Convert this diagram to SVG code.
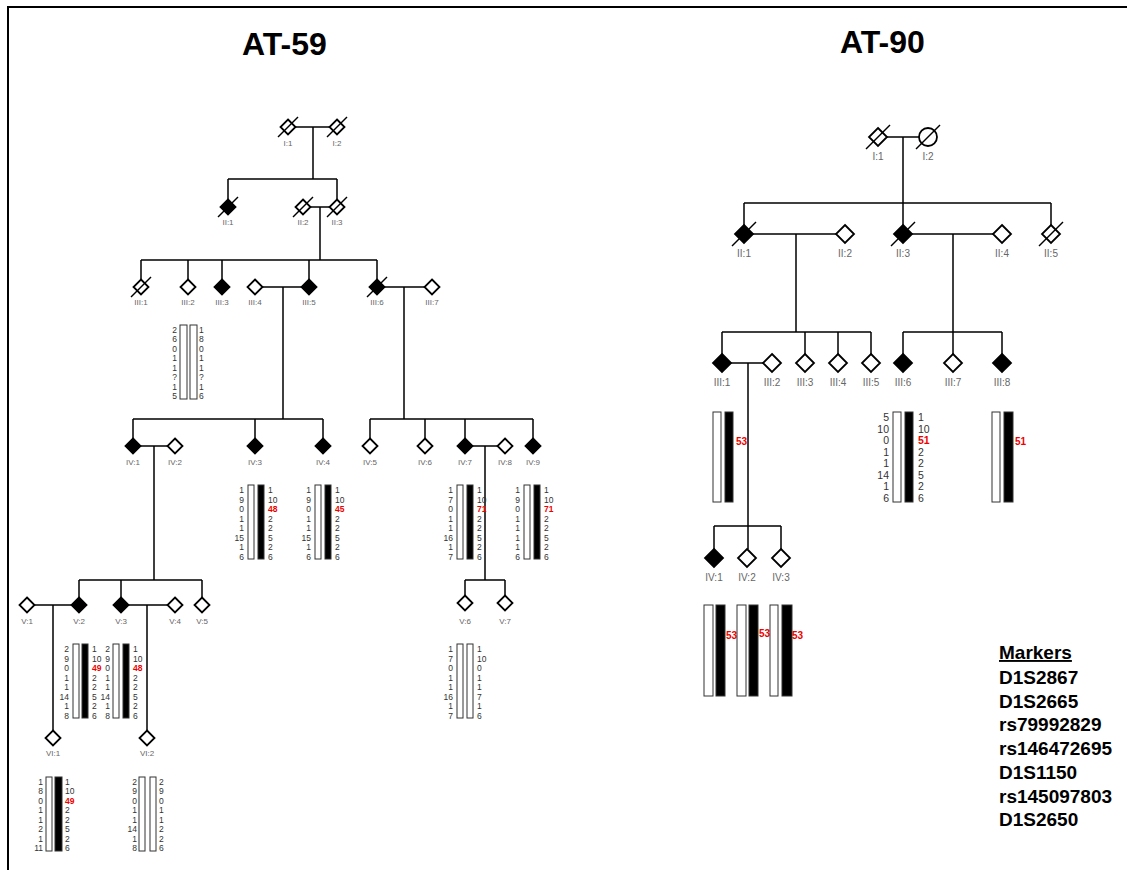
<svg xmlns="http://www.w3.org/2000/svg" xmlns:xlink="http://www.w3.org/1999/xlink" width="1127" height="870" viewBox="0 0 1127 870">
<style>
.ln{stroke:#000;stroke-width:1.5;fill:none}
.o{fill:#fff;stroke:#000;stroke-width:1.8}
.f{fill:#000;stroke:#000;stroke-width:1.8}
.sl{stroke:#000;stroke-width:1.5;fill:none}
.lb{font-family:"Liberation Sans",Arial,sans-serif;font-size:8px;fill:#666;text-anchor:middle}
.lb2{font-family:"Liberation Sans",Arial,sans-serif;font-size:10px;fill:#666;text-anchor:middle}
.hn{font-family:"Liberation Sans",Arial,sans-serif;font-size:8.5px;fill:#333}
.hn2{font-family:"Liberation Sans",Arial,sans-serif;font-size:10.5px;fill:#333}
.e{text-anchor:end}
.r{fill:#e00;font-weight:bold}
.rl{font-family:"Liberation Sans",Arial,sans-serif;font-size:10px;fill:#e00;font-weight:bold}
.bw{fill:#fff;stroke:#333;stroke-width:1}
.bb{fill:#000;stroke:#333;stroke-width:1}
.ttl{font-family:"Liberation Sans",Arial,sans-serif;font-size:32px;font-weight:bold;fill:#000}
.mk{font-family:"Liberation Sans",Arial,sans-serif;font-size:19px;font-weight:bold;fill:#000}
</style>
<defs>
<path id="d" d="M0,-7.5L7.5,0L0,7.5L-7.5,0Z"/>
<path id="s" d="M-10,10L10,-10"/>
<path id="D" d="M0,-9L9,0L0,9L-9,0Z"/>
<path id="S" d="M-12,12L12,-12"/>
</defs>
<rect x="8" y="7" width="1130" height="880" fill="none" stroke="#000" stroke-width="2"/>
<text class="ttl" x="242" y="55">AT-59</text>
<text class="ttl" x="840" y="53">AT-90</text>

<g id="connectors">
<path class="ln" d="M295,127H330M313,127V179M228,179H337M228,179V200M337,179V200"/>
<path class="ln" d="M310,207H330M320,207V260M141,260H377M141,260V280M188,260V280M222,260V280M309,260V280M377,260V280"/>
<path class="ln" d="M262,287H302M283,287V419M384,287H425M404,287V419"/>
<path class="ln" d="M133,419H323M133,419V439M255,419V439M323,419V439M370,419H533M370,419V439M425,419V439M465,419V439M533,419V439"/>
<path class="ln" d="M140,446H168M154,446V580M472,446H498M485,446V580"/>
<path class="ln" d="M79,580H202M79,580V598M121,580V598M202,580V598M465,580H505M465,580V596M505,580V596"/>
<path class="ln" d="M34,605H72M53,605V731M128,605H168M147,605V731"/>
<path class="ln" d="M887,137H919M903,137V225M744,203H1051M744,203V225M1051,203V225"/>
<path class="ln" d="M753,234H836M796,234V332M912,234H993M953,234V354M722,332H871M722,332V354M805,332V354M838,332V354M871,332V354M903,332H1002M903,332V354M1002,332V354"/>
<path class="ln" d="M731,363H763M748,363V549M714,526H781M714,526V549M781,526V549"/>
</g>

<g id="AT59-I-1"><use href="#d" x="288" y="127" class="o"/><use href="#s" x="288" y="127" class="sl"/><text class="lb" x="288" y="146">I:1</text></g>
<g id="AT59-I-2"><use href="#d" x="337" y="127" class="o"/><use href="#s" x="337" y="127" class="sl"/><text class="lb" x="337" y="146">I:2</text></g>
<g id="AT59-II-1"><use href="#d" x="228" y="207" class="f"/><use href="#s" x="228" y="207" class="sl"/><text class="lb" x="228" y="225">II:1</text></g>
<g id="AT59-II-2"><use href="#d" x="303" y="207" class="o"/><use href="#s" x="303" y="207" class="sl"/><text class="lb" x="303" y="225">II:2</text></g>
<g id="AT59-II-3"><use href="#d" x="337" y="207" class="o"/><use href="#s" x="337" y="207" class="sl"/><text class="lb" x="337" y="225">II:3</text></g>

<g id="AT59-III-1"><use href="#d" x="141" y="287" class="o"/><use href="#s" x="141" y="287" class="sl"/><text class="lb" x="141" y="305">III:1</text></g>
<g id="AT59-III-2"><use href="#d" x="188" y="287" class="o"/><text class="lb" x="188" y="305">III:2</text>
<rect class="bw" x="180" y="325" width="7" height="74"/><rect class="bw" x="190" y="325" width="7" height="74"/>
<text class="hn e" x="177" y="333"><tspan x="177">2</tspan><tspan x="177" dy="9.43">6</tspan><tspan x="177" dy="9.43">0</tspan><tspan x="177" dy="9.43">1</tspan><tspan x="177" dy="9.43">1</tspan><tspan x="177" dy="9.43">?</tspan><tspan x="177" dy="9.43">1</tspan><tspan x="177" dy="9.43">5</tspan></text>
<text class="hn" x="199" y="333"><tspan x="199">1</tspan><tspan x="199" dy="9.43">8</tspan><tspan x="199" dy="9.43">0</tspan><tspan x="199" dy="9.43">1</tspan><tspan x="199" dy="9.43">1</tspan><tspan x="199" dy="9.43">?</tspan><tspan x="199" dy="9.43">1</tspan><tspan x="199" dy="9.43">6</tspan></text>
</g>
<g id="AT59-III-3"><use href="#d" x="222" y="287" class="f"/><text class="lb" x="222" y="305">III:3</text></g>
<g id="AT59-III-4"><use href="#d" x="255" y="287" class="o"/><text class="lb" x="255" y="305">III:4</text></g>
<g id="AT59-III-5"><use href="#d" x="309" y="287" class="f"/><text class="lb" x="309" y="305">III:5</text></g>
<g id="AT59-III-6"><use href="#d" x="377" y="287" class="f"/><use href="#s" x="377" y="287" class="sl"/><text class="lb" x="377" y="305">III:6</text></g>
<g id="AT59-III-7"><use href="#d" x="432" y="287" class="o"/><text class="lb" x="432" y="305">III:7</text></g>

<g id="AT59-IV-1"><use href="#d" x="133" y="446" class="f"/><text class="lb" x="133" y="465">IV:1</text></g>
<g id="AT59-IV-2"><use href="#d" x="175" y="446" class="o"/><text class="lb" x="175" y="465">IV:2</text></g>
<g id="AT59-IV-3"><use href="#d" x="255" y="446" class="f"/><text class="lb" x="255" y="465">IV:3</text>
<rect class="bw" x="248" y="485" width="6" height="74"/><rect class="bb" x="258" y="485" width="6" height="74"/>
<text class="hn e" x="244" y="493"><tspan x="244">1</tspan><tspan x="244" dy="9.57">9</tspan><tspan x="244" dy="9.57">0</tspan><tspan x="244" dy="9.57">1</tspan><tspan x="244" dy="9.57">1</tspan><tspan x="244" dy="9.57">15</tspan><tspan x="244" dy="9.57">1</tspan><tspan x="244" dy="9.57">6</tspan></text>
<text class="hn" x="268" y="493"><tspan x="268">1</tspan><tspan x="268" dy="9.57">10</tspan><tspan x="268" dy="9.57" class="r">48</tspan><tspan x="268" dy="9.57">2</tspan><tspan x="268" dy="9.57">2</tspan><tspan x="268" dy="9.57">5</tspan><tspan x="268" dy="9.57">2</tspan><tspan x="268" dy="9.57">6</tspan></text>
</g>
<g id="AT59-IV-4"><use href="#d" x="323" y="446" class="f"/><text class="lb" x="323" y="465">IV:4</text>
<rect class="bw" x="315" y="485" width="6" height="74"/><rect class="bb" x="325" y="485" width="6" height="74"/>
<text class="hn e" x="311" y="493"><tspan x="311">1</tspan><tspan x="311" dy="9.57">9</tspan><tspan x="311" dy="9.57">0</tspan><tspan x="311" dy="9.57">1</tspan><tspan x="311" dy="9.57">1</tspan><tspan x="311" dy="9.57">15</tspan><tspan x="311" dy="9.57">1</tspan><tspan x="311" dy="9.57">6</tspan></text>
<text class="hn" x="335" y="493"><tspan x="335">1</tspan><tspan x="335" dy="9.57">10</tspan><tspan x="335" dy="9.57" class="r">45</tspan><tspan x="335" dy="9.57">2</tspan><tspan x="335" dy="9.57">2</tspan><tspan x="335" dy="9.57">5</tspan><tspan x="335" dy="9.57">2</tspan><tspan x="335" dy="9.57">6</tspan></text>
</g>
<g id="AT59-IV-5"><use href="#d" x="370" y="446" class="o"/><text class="lb" x="370" y="465">IV:5</text></g>
<g id="AT59-IV-6"><use href="#d" x="425" y="446" class="o"/><text class="lb" x="425" y="465">IV:6</text></g>
<g id="AT59-IV-7"><use href="#d" x="465" y="446" class="f"/><text class="lb" x="465" y="465">IV:7</text>
<rect class="bw" x="457" y="485" width="6" height="74"/><rect class="bb" x="467" y="485" width="6" height="74"/>
<text class="hn e" x="453" y="493"><tspan x="453">1</tspan><tspan x="453" dy="9.57">7</tspan><tspan x="453" dy="9.57">0</tspan><tspan x="453" dy="9.57">1</tspan><tspan x="453" dy="9.57">1</tspan><tspan x="453" dy="9.57">16</tspan><tspan x="453" dy="9.57">1</tspan><tspan x="453" dy="9.57">7</tspan></text>
<text class="hn" x="477" y="493"><tspan x="477">1</tspan><tspan x="477" dy="9.57">10</tspan><tspan x="477" dy="9.57" class="r">71</tspan><tspan x="477" dy="9.57">2</tspan><tspan x="477" dy="9.57">2</tspan><tspan x="477" dy="9.57">5</tspan><tspan x="477" dy="9.57">2</tspan><tspan x="477" dy="9.57">6</tspan></text>
</g>
<g id="AT59-IV-8"><use href="#d" x="505" y="446" class="o"/><text class="lb" x="505" y="465">IV:8</text></g>
<g id="AT59-IV-9"><use href="#d" x="533" y="446" class="f"/><text class="lb" x="533" y="465">IV:9</text>
<rect class="bw" x="524" y="485" width="6" height="74"/><rect class="bb" x="534" y="485" width="6" height="74"/>
<text class="hn e" x="520" y="493"><tspan x="520">1</tspan><tspan x="520" dy="9.57">9</tspan><tspan x="520" dy="9.57">0</tspan><tspan x="520" dy="9.57">1</tspan><tspan x="520" dy="9.57">1</tspan><tspan x="520" dy="9.57">1</tspan><tspan x="520" dy="9.57">1</tspan><tspan x="520" dy="9.57">6</tspan></text>
<text class="hn" x="544" y="493"><tspan x="544">1</tspan><tspan x="544" dy="9.57">10</tspan><tspan x="544" dy="9.57" class="r">71</tspan><tspan x="544" dy="9.57">2</tspan><tspan x="544" dy="9.57">2</tspan><tspan x="544" dy="9.57">5</tspan><tspan x="544" dy="9.57">2</tspan><tspan x="544" dy="9.57">6</tspan></text>
</g>

<g id="AT59-V-1"><use href="#d" x="27" y="605" class="o"/><text class="lb" x="27" y="624">V:1</text></g>
<g id="AT59-V-2"><use href="#d" x="79" y="605" class="f"/><text class="lb" x="79" y="624">V:2</text>
<rect class="bw" x="73" y="644" width="6" height="74"/><rect class="bb" x="82" y="644" width="6" height="74"/>
<text class="hn e" x="69" y="652"><tspan x="69">2</tspan><tspan x="69" dy="9.5">9</tspan><tspan x="69" dy="9.5">0</tspan><tspan x="69" dy="9.5">1</tspan><tspan x="69" dy="9.5">1</tspan><tspan x="69" dy="9.5">14</tspan><tspan x="69" dy="9.5">1</tspan><tspan x="69" dy="9.5">8</tspan></text>
<text class="hn" x="92" y="652"><tspan x="92">1</tspan><tspan x="92" dy="9.5">10</tspan><tspan x="92" dy="9.5" class="r">49</tspan><tspan x="92" dy="9.5">2</tspan><tspan x="92" dy="9.5">2</tspan><tspan x="92" dy="9.5">5</tspan><tspan x="92" dy="9.5">2</tspan><tspan x="92" dy="9.5">6</tspan></text>
</g>
<g id="AT59-V-3"><use href="#d" x="121" y="605" class="f"/><text class="lb" x="121" y="624">V:3</text>
<rect class="bw" x="113" y="644" width="6" height="74"/><rect class="bb" x="123" y="644" width="6" height="74"/>
<text class="hn e" x="110" y="652"><tspan x="110">2</tspan><tspan x="110" dy="9.5">9</tspan><tspan x="110" dy="9.5">0</tspan><tspan x="110" dy="9.5">1</tspan><tspan x="110" dy="9.5">1</tspan><tspan x="110" dy="9.5">14</tspan><tspan x="110" dy="9.5">1</tspan><tspan x="110" dy="9.5">8</tspan></text>
<text class="hn" x="133" y="652"><tspan x="133">1</tspan><tspan x="133" dy="9.5">10</tspan><tspan x="133" dy="9.5" class="r">48</tspan><tspan x="133" dy="9.5">2</tspan><tspan x="133" dy="9.5">2</tspan><tspan x="133" dy="9.5">5</tspan><tspan x="133" dy="9.5">2</tspan><tspan x="133" dy="9.5">6</tspan></text>
</g>
<g id="AT59-V-4"><use href="#d" x="175" y="605" class="o"/><text class="lb" x="175" y="624">V:4</text></g>
<g id="AT59-V-5"><use href="#d" x="202" y="605" class="o"/><text class="lb" x="202" y="624">V:5</text></g>
<g id="AT59-V-6"><use href="#d" x="465" y="603" class="o"/><text class="lb" x="465" y="624">V:6</text>
<rect class="bw" x="457" y="644" width="6" height="74"/><rect class="bw" x="467" y="644" width="6" height="74"/>
<text class="hn e" x="453" y="652"><tspan x="453">1</tspan><tspan x="453" dy="9.5">7</tspan><tspan x="453" dy="9.5">0</tspan><tspan x="453" dy="9.5">1</tspan><tspan x="453" dy="9.5">1</tspan><tspan x="453" dy="9.5">16</tspan><tspan x="453" dy="9.5">1</tspan><tspan x="453" dy="9.5">7</tspan></text>
<text class="hn" x="477" y="652"><tspan x="477">1</tspan><tspan x="477" dy="9.5">10</tspan><tspan x="477" dy="9.5">0</tspan><tspan x="477" dy="9.5">1</tspan><tspan x="477" dy="9.5">1</tspan><tspan x="477" dy="9.5">7</tspan><tspan x="477" dy="9.5">1</tspan><tspan x="477" dy="9.5">6</tspan></text>
</g>
<g id="AT59-V-7"><use href="#d" x="505" y="603" class="o"/><text class="lb" x="505" y="624">V:7</text></g>

<g id="AT59-VI-1"><use href="#d" x="53" y="738" class="o"/><text class="lb" x="53" y="756">VI:1</text>
<rect class="bw" x="46" y="777" width="6" height="74"/><rect class="bb" x="55" y="777" width="7" height="74"/>
<text class="hn e" x="43" y="785"><tspan x="43">1</tspan><tspan x="43" dy="9.43">8</tspan><tspan x="43" dy="9.43">0</tspan><tspan x="43" dy="9.43">1</tspan><tspan x="43" dy="9.43">1</tspan><tspan x="43" dy="9.43">2</tspan><tspan x="43" dy="9.43">1</tspan><tspan x="43" dy="9.43">11</tspan></text>
<text class="hn" x="65" y="785"><tspan x="65">1</tspan><tspan x="65" dy="9.43">10</tspan><tspan x="65" dy="9.43" class="r">49</tspan><tspan x="65" dy="9.43">2</tspan><tspan x="65" dy="9.43">2</tspan><tspan x="65" dy="9.43">5</tspan><tspan x="65" dy="9.43">2</tspan><tspan x="65" dy="9.43">6</tspan></text>
</g>
<g id="AT59-VI-2"><use href="#d" x="147" y="738" class="o"/><text class="lb" x="147" y="756">VI:2</text>
<rect class="bw" x="139" y="777" width="6" height="74"/><rect class="bw" x="150" y="777" width="6" height="74"/>
<text class="hn e" x="137" y="785"><tspan x="137">2</tspan><tspan x="137" dy="9.43">9</tspan><tspan x="137" dy="9.43">0</tspan><tspan x="137" dy="9.43">1</tspan><tspan x="137" dy="9.43">1</tspan><tspan x="137" dy="9.43">14</tspan><tspan x="137" dy="9.43">1</tspan><tspan x="137" dy="9.43">8</tspan></text>
<text class="hn" x="159" y="785"><tspan x="159">2</tspan><tspan x="159" dy="9.43">9</tspan><tspan x="159" dy="9.43">0</tspan><tspan x="159" dy="9.43">1</tspan><tspan x="159" dy="9.43">1</tspan><tspan x="159" dy="9.43">2</tspan><tspan x="159" dy="9.43">2</tspan><tspan x="159" dy="9.43">6</tspan></text>
</g>

<g id="AT90-I-1"><use href="#D" x="878" y="137" class="o"/><use href="#S" x="878" y="137" class="sl"/><text class="lb2" x="878" y="160">I:1</text></g>
<g id="AT90-I-2"><circle cx="928" cy="137" r="9" class="o"/><use href="#S" x="928" y="137" class="sl"/><text class="lb2" x="928" y="160">I:2</text></g>
<g id="AT90-II-1"><use href="#D" x="744" y="234" class="f"/><use href="#S" x="744" y="234" class="sl"/><text class="lb2" x="744" y="257">II:1</text></g>
<g id="AT90-II-2"><use href="#D" x="845" y="234" class="o"/><text class="lb2" x="845" y="257">II:2</text></g>
<g id="AT90-II-3"><use href="#D" x="903" y="234" class="f"/><use href="#S" x="903" y="234" class="sl"/><text class="lb2" x="903" y="257">II:3</text></g>
<g id="AT90-II-4"><use href="#D" x="1002" y="234" class="o"/><text class="lb2" x="1002" y="257">II:4</text></g>
<g id="AT90-II-5"><use href="#D" x="1051" y="234" class="o"/><use href="#S" x="1051" y="234" class="sl"/><text class="lb2" x="1051" y="257">II:5</text></g>

<g id="AT90-III-1"><use href="#D" x="722" y="363" class="f"/><text class="lb2" x="722" y="386">III:1</text>
<rect class="bw" x="713" y="412" width="8" height="90"/><rect class="bb" x="725" y="412" width="8" height="90"/>
<text class="rl" x="736" y="445">53</text></g>
<g id="AT90-III-2"><use href="#D" x="772" y="363" class="o"/><text class="lb2" x="772" y="386">III:2</text></g>
<g id="AT90-III-3"><use href="#D" x="805" y="363" class="o"/><text class="lb2" x="805" y="386">III:3</text></g>
<g id="AT90-III-4"><use href="#D" x="838" y="363" class="o"/><text class="lb2" x="838" y="386">III:4</text></g>
<g id="AT90-III-5"><use href="#D" x="871" y="363" class="o"/><text class="lb2" x="871" y="386">III:5</text></g>
<g id="AT90-III-6"><use href="#D" x="903" y="363" class="f"/><text class="lb2" x="903" y="386">III:6</text>
<rect class="bw" x="893" y="412" width="8" height="90"/><rect class="bb" x="905" y="412" width="8" height="90"/>
<text class="hn2 e" x="889" y="421"><tspan x="889">5</tspan><tspan x="889" dy="11.57">10</tspan><tspan x="889" dy="11.57">0</tspan><tspan x="889" dy="11.57">1</tspan><tspan x="889" dy="11.57">1</tspan><tspan x="889" dy="11.57">14</tspan><tspan x="889" dy="11.57">1</tspan><tspan x="889" dy="11.57">6</tspan></text>
<text class="hn2" x="918" y="421"><tspan x="918">1</tspan><tspan x="918" dy="11.57">10</tspan><tspan x="918" dy="11.57" class="r">51</tspan><tspan x="918" dy="11.57">2</tspan><tspan x="918" dy="11.57">2</tspan><tspan x="918" dy="11.57">5</tspan><tspan x="918" dy="11.57">2</tspan><tspan x="918" dy="11.57">6</tspan></text>
</g>
<g id="AT90-III-7"><use href="#D" x="953" y="363" class="o"/><text class="lb2" x="953" y="386">III:7</text></g>
<g id="AT90-III-8"><use href="#D" x="1002" y="363" class="f"/><text class="lb2" x="1002" y="386">III:8</text>
<rect class="bw" x="992" y="412" width="8" height="90"/><rect class="bb" x="1004" y="412" width="9" height="90"/>
<text class="rl" x="1015" y="445">51</text></g>

<g id="AT90-IV-1"><use href="#D" x="714" y="558" class="f"/><text class="lb2" x="714" y="581">IV:1</text>
<rect class="bw" x="704" y="605" width="9" height="91"/><rect class="bb" x="716" y="605" width="9" height="91"/>
<text class="rl" x="726" y="639">53</text></g>
<g id="AT90-IV-2"><use href="#D" x="747" y="558" class="o"/><text class="lb2" x="747" y="581">IV:2</text>
<rect class="bw" x="737" y="605" width="9" height="91"/><rect class="bb" x="749" y="605" width="9" height="91"/>
<text class="rl" x="759" y="637">53</text></g>
<g id="AT90-IV-3"><use href="#D" x="781" y="558" class="o"/><text class="lb2" x="781" y="581">IV:3</text>
<rect class="bw" x="770" y="605" width="8" height="91"/><rect class="bb" x="782" y="605" width="10" height="91"/>
<text class="rl" x="792" y="639">53</text></g>

<g id="markers">
<text class="mk" x="999" y="659" text-decoration="underline">Markers</text>
<text class="mk" x="999" y="684">D1S2867</text>
<text class="mk" x="999" y="708">D1S2665</text>
<text class="mk" x="999" y="731">rs79992829</text>
<text class="mk" x="999" y="755">rs146472695</text>
<text class="mk" x="999" y="779">D1S1150</text>
<text class="mk" x="999" y="803">rs145097803</text>
<text class="mk" x="999" y="826">D1S2650</text>
</g>
</svg>
